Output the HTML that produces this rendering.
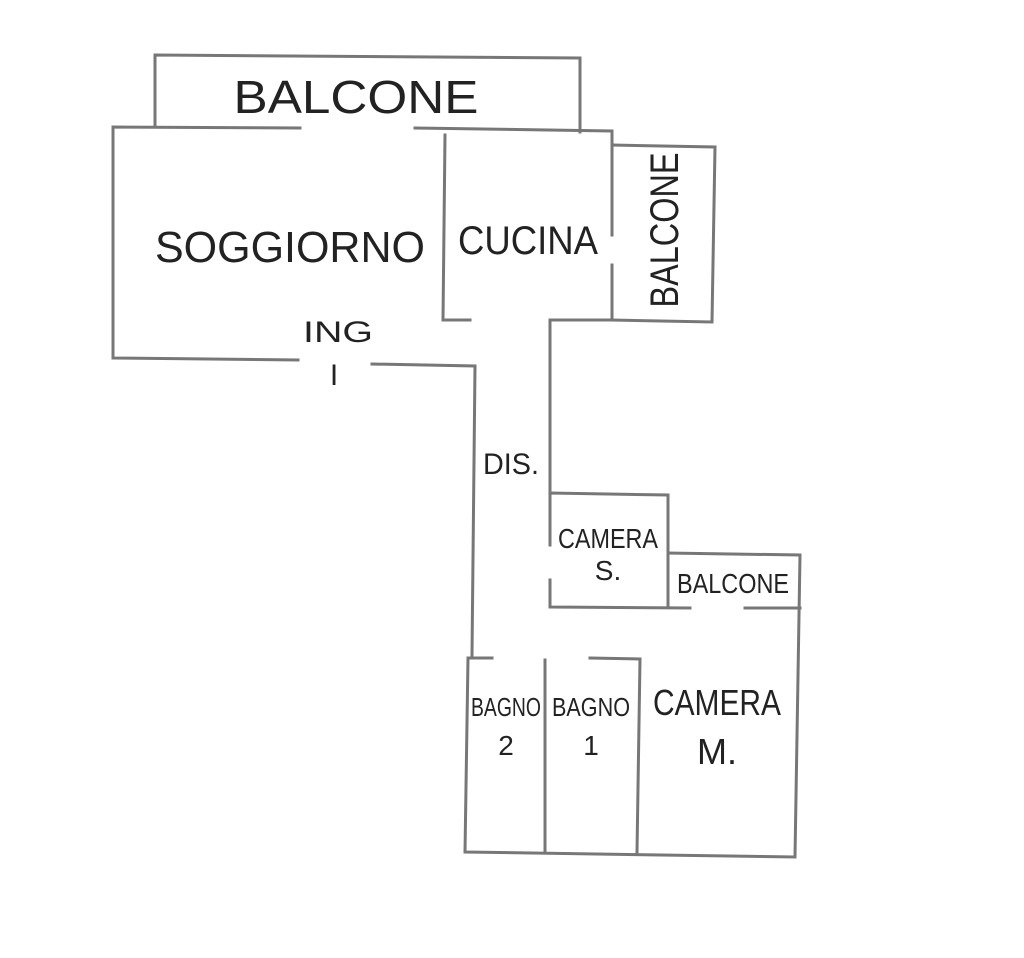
<!DOCTYPE html>
<html><head><style>body{margin:0;background:#fff}</style></head><body>
<svg width="1024" height="953" viewBox="0 0 1024 953" xmlns="http://www.w3.org/2000/svg">
<g stroke="#777" stroke-width="3" fill="none" stroke-linecap="square">
<polyline points="155,125 155,55 580,58 580,132"/>
<polyline points="300,128 113,127 113,358 298,360"/>
<polyline points="415,128 612,131 612,235"/>
<polyline points="612,265 612,320 550,320 550,490"/>
<polyline points="612,145 715,147 712,322 612,320"/>
<polyline points="445,135 443,320 470,320"/>
<polyline points="372,364 475,366 472,655"/>
<polyline points="470,658 492,658"/>
<polyline points="468,658 465,852 795,857 800,555 668,553"/>
<polyline points="550,545 550,493 668,495 668,607"/>
<polyline points="550,580 550,607 690,608"/>
<polyline points="745,608 800,608"/>
<polyline points="545,660 545,852"/>
<polyline points="590,658 640,659 637,852"/>
</g>
<g fill="#222" font-family="Liberation Sans, sans-serif" font-weight="normal" text-anchor="middle">
<text x="356" y="113" font-size="46" textLength="245" lengthAdjust="spacingAndGlyphs">BALCONE</text>
<text x="290" y="262" font-size="44" textLength="270" lengthAdjust="spacingAndGlyphs">SOGGIORNO</text>
<text x="528" y="254" font-size="40" textLength="140" lengthAdjust="spacingAndGlyphs">CUCINA</text>
<text transform="translate(678,230) rotate(-90)" font-size="40" textLength="155" lengthAdjust="spacingAndGlyphs">BALCONE</text>
<text x="338" y="342" font-size="30" textLength="70" lengthAdjust="spacingAndGlyphs">ING</text>
<text x="334" y="385" font-size="30">I</text>
<text x="511" y="474" font-size="30" textLength="56" lengthAdjust="spacingAndGlyphs">DIS.</text>
<text x="608" y="548" font-size="28" textLength="100" lengthAdjust="spacingAndGlyphs">CAMERA</text>
<text x="608" y="580" font-size="28">S.</text>
<text x="733" y="593" font-size="28" textLength="112" lengthAdjust="spacingAndGlyphs">BALCONE</text>
<text x="506" y="716" font-size="26" textLength="70" lengthAdjust="spacingAndGlyphs">BAGNO</text>
<text x="506" y="755" font-size="28">2</text>
<text x="591" y="716" font-size="26" textLength="78" lengthAdjust="spacingAndGlyphs">BAGNO</text>
<text x="591" y="755" font-size="28">1</text>
<text x="717" y="715" font-size="36" textLength="128" lengthAdjust="spacingAndGlyphs">CAMERA</text>
<text x="717" y="764" font-size="36">M.</text>
</g>
</svg>
</body></html>
